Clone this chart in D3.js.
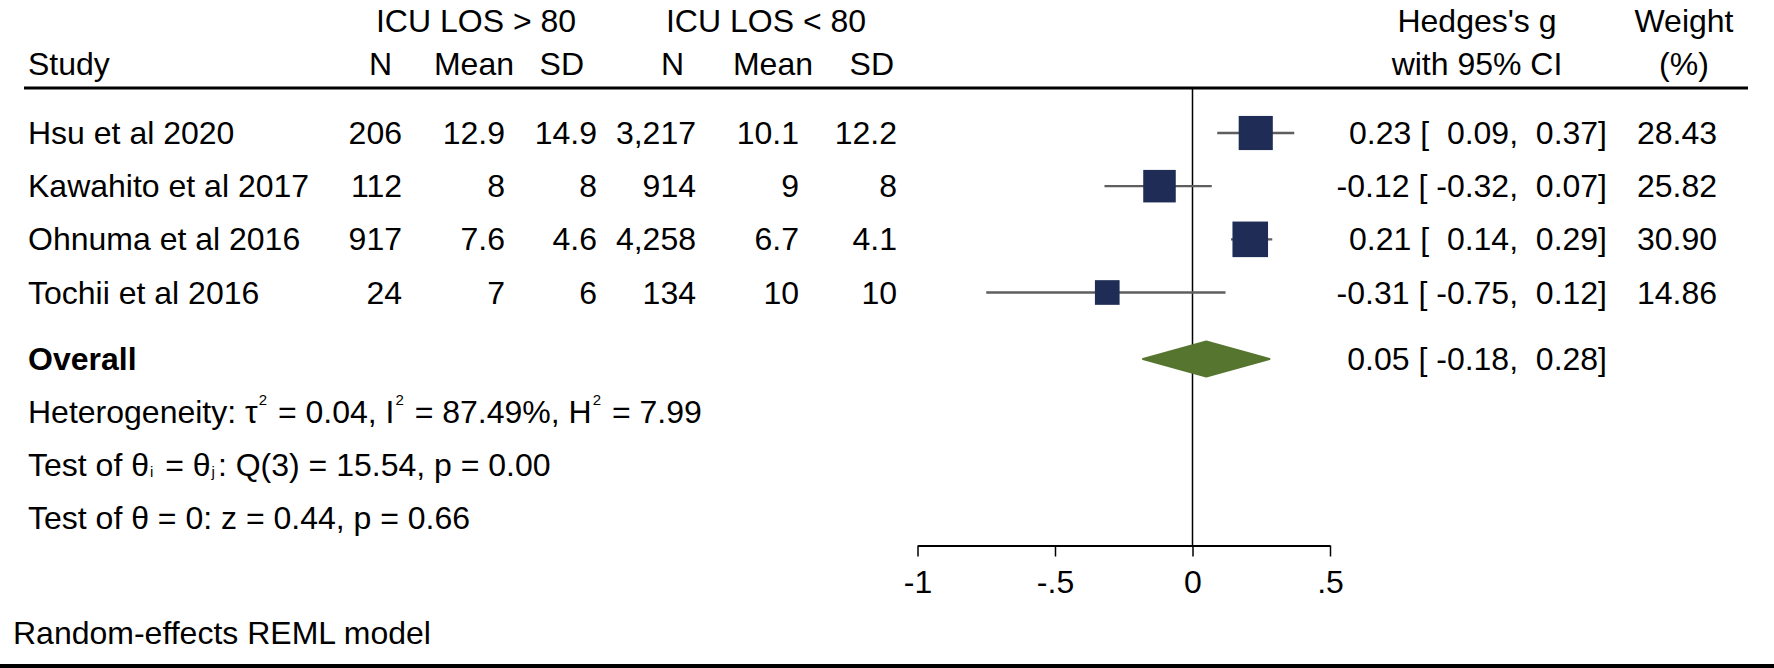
<!DOCTYPE html>
<html>
<head>
<meta charset="utf-8">
<script src="https://cdn.jsdelivr.net/npm/d3@7"></script>
<style>
  html, body { margin: 0; padding: 0; background: #fff; }
  svg { display: block; }
  text { font-family: "Liberation Sans", Arial, Helvetica, sans-serif; fill: #000; white-space: pre; }
</style>
</head>
<body>
<svg id="chart" width="1774" height="668"></svg>
<script>
// ---------- data ----------
const studies = ["Hsu et al 2020", "Kawahito et al 2017", "Ohnuma et al 2016", "Tochii et al 2016"];
const n1 = [206, 112, 917, 24];
const mean1 = [12.9, 8, 7.6, 7];
const sd1 = [14.9, 8, 4.6, 6];
const n2 = [3217, 914, 4258, 134];
const mean2 = [10.1, 9, 6.7, 10];
const sd2 = [12.2, 8, 4.1, 10];
const g = [0.23, -0.12, 0.21, -0.31];
const lo = [0.09, -0.32, 0.14, -0.75];
const hi = [0.37, 0.07, 0.29, 0.12];
const weight = [28.43, 25.82, 30.90, 14.86];
const overall = [0.05, -0.18, 0.28];
const tickValues = [-1, -0.5, 0, 0.5];
const tickLabels = ["-1", "-.5", "0", ".5"];
const groupHeaders = ["ICU LOS > 80", "ICU LOS < 80"];
const colHeaders = ["N", "Mean", "SD", "N", "Mean", "SD"];

// ---------- layout ----------
const W = 1774, H = 668;
const FS = 32;
const svg = d3.select("#chart");
const x = d3.scaleLinear().domain([-1, 0.5]).range([917.5, 1330]);
const rowY = d3.scalePoint().domain(studies).range([133, 292.5]);
const yOverall = 359;
const axisY = 545.5;
const f2 = v => d3.format(".2f")(v).replace("\u2212", "-");
const pad = (v, n) => { const s = f2(v); return " ".repeat(Math.max(0, n - s.length)) + s; };
const fmtN = d3.format(",");

const NAVY = "#1f2d56", GREEN = "#56752f", GREY = "#5e5e5e";

function txt(xp, yp, s, anchor, extra) {
  const t = svg.append("text").attr("x", xp).attr("y", yp)
    .attr("font-size", FS).attr("text-anchor", anchor || "start")
    .attr("dominant-baseline", "central").text(s);
  if (extra) extra(t);
  return t;
}
const ciString = (e, l, h) => `${pad(e, 5)} [${pad(l, 6)},${pad(h, 6)}]`;

// header
const hy1 = 21, hy2 = 64;
txt(476, hy1, groupHeaders[0], "middle");
txt(766, hy1, groupHeaders[1], "middle");
txt(28, hy2, "Study", "start");
const colRight = [402, 505, 597, 696, 799, 897];
const hdrRight = [392, 514, 584, 684, 813, 894];
colHeaders.forEach((h, i) => txt(hdrRight[i], hy2, h, "end"));
txt(1477, hy1, "Hedges's g", "middle");
txt(1477, hy2, "with 95% CI", "middle");
txt(1684, hy1, "Weight", "middle");
txt(1684, hy2, "(%)", "middle");

// rules
svg.append("line").attr("x1", 24).attr("x2", 1748).attr("y1", 88).attr("y2", 88)
  .attr("stroke", "#000").attr("stroke-width", 3);
svg.append("rect").attr("x", 0).attr("y", 664).attr("width", W).attr("height", 4).attr("fill", "#000");

// zero line
svg.append("line").attr("x1", x(0)).attr("x2", x(0)).attr("y1", 88).attr("y2", axisY)
  .attr("stroke", "#000").attr("stroke-width", 1.5);

// study rows
studies.forEach((s, i) => {
  const y = rowY(s);
  txt(28, y, s, "start");
  const cols = [fmtN(n1[i]), String(mean1[i]), String(sd1[i]), fmtN(n2[i]), String(mean2[i]), String(sd2[i])];
  cols.forEach((c, j) => txt(colRight[j], y, c, "end"));
  svg.append("line").attr("x1", x(lo[i])).attr("x2", x(hi[i])).attr("y1", y).attr("y2", y)
    .attr("stroke", GREY).attr("stroke-width", 2.4);
  const side = 6.4 * Math.sqrt(weight[i]);
  svg.append("rect").attr("x", x(g[i]) - side / 2).attr("y", y - side / 2)
    .attr("width", side).attr("height", side).attr("fill", NAVY);
  txt(1607, y, ciString(g[i], lo[i], hi[i]), "end");
  txt(1717, y, f2(weight[i]), "end");
});

// overall
txt(28, yOverall, "Overall", "start", t => t.attr("font-weight", "bold"));
const dh = 17.5;
const diamond = [[x(overall[1]), yOverall], [x(overall[0]), yOverall - dh], [x(overall[2]), yOverall], [x(overall[0]), yOverall + dh]];
svg.append("path").attr("d", d3.line()(diamond) + "Z").attr("fill", GREEN)
  .attr("stroke", GREEN).attr("stroke-width", 2).attr("stroke-linejoin", "round");
txt(1607, yOverall, ciString(overall[0], overall[1], overall[2]), "end");

// heterogeneity & tests
const sup = (t, s) => t.append("tspan").attr("font-size", 15).attr("dx", 1).attr("dy", -13).text(s);
const sub = (t, s) => t.append("tspan").attr("font-size", 15).attr("dx", 1).attr("dy", 6).text(s);
const back = (t, s, d, dx) => t.append("tspan").attr("dx", dx).attr("dy", d).text(s);
const h1 = txt(28, 412, "", "start");
h1.append("tspan").text("Heterogeneity: τ");
sup(h1, "2"); back(h1, " = 0.04, I", 13, 2);
sup(h1, "2"); back(h1, " = 87.49%, H", 13, 2);
sup(h1, "2"); back(h1, " = 7.99", 13, 2);

const h2 = txt(28, 465, "", "start");
h2.append("tspan").text("Test of θ");
sub(h2, "i");
back(h2, " = θ", -6, 3);
sub(h2, "j");
back(h2, ": Q(3) = 15.54, p = 0.00", -6, 3);

txt(28, 518, "Test of θ = 0: z = 0.44, p = 0.66", "start");
txt(13, 633, "Random-effects REML model", "start");

// axis
const axis = d3.axisBottom(x).tickValues(tickValues).tickSize(11).tickSizeOuter(0)
  .tickFormat((d, i) => tickLabels[i]);
const ag = svg.append("g").attr("transform", `translate(0,${axisY})`).call(axis);
ag.select(".domain").attr("stroke", "#000").attr("stroke-width", 2);
ag.selectAll(".tick line").attr("stroke", "#000").attr("stroke-width", 1.5);
ag.selectAll(".tick text").attr("font-size", FS).attr("font-family", "Liberation Sans, Arial, sans-serif")
  .attr("fill", "#000").attr("dy", null).attr("y", 47).attr("dominant-baseline", "auto");
</script>
</body>
</html>
